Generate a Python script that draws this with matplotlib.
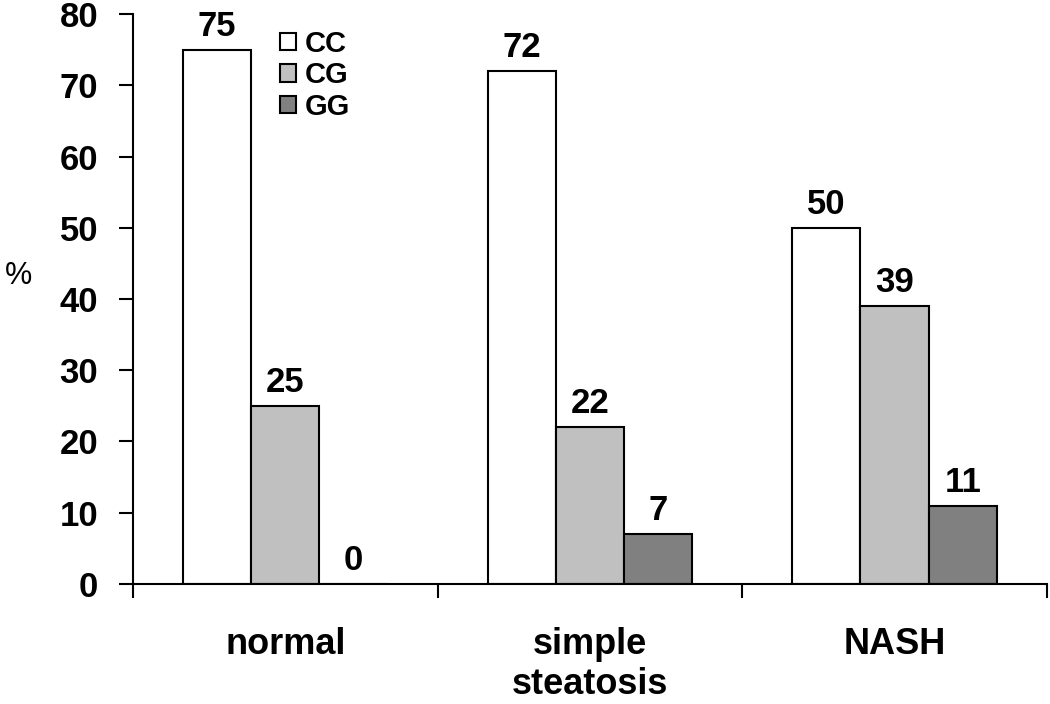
import numpy as np
import matplotlib
matplotlib.use("Agg")
import matplotlib.pyplot as plt
from matplotlib.patches import Patch

plt.rcParams['font.family'] = ['Liberation Sans', 'DejaVu Sans']

categories = ["normal", "simple\nsteatosis", "NASH"]
genotypes = ["CC", "CG", "GG"]
cc = [75, 72, 50]
cg = [25, 22, 39]
gg = [0, 7, 11]
colors = ["#ffffff", "#c0c0c0", "#808080"]

fig = plt.figure(figsize=(10.5, 7.04), dpi=100)
ax = fig.add_axes([0.1267, 0.1705, 0.8703, 0.8095])

x = np.arange(len(categories))
w = 0.224
series = [cc, cg, gg]
for i, vals in enumerate(series):
    pos = x + (i - 1) * w
    ax.bar(pos, vals, width=w, color=colors[i], edgecolor="black", linewidth=1.5)
    for p, v in zip(pos, vals):
        ax.annotate(str(v), (p, v), xytext=(0, 5), textcoords="offset points",
                    ha="center", va="bottom", fontsize=25, fontweight="bold")

ax.set_xlim(-0.5, 2.5)
ax.set_ylim(0, 80)
ax.set_yticks(range(0, 81, 10))
ax.set_yticklabels([str(t) for t in range(0, 81, 10)], fontsize=25, fontweight="bold")
ax.set_xticks(x)
ax.set_xticklabels(categories, fontsize=26, fontweight="bold", linespacing=1.2)
ax.set_xticks([-0.5, 0.5, 1.5, 2.5], minor=True)
ax.tick_params(axis="x", which="major", length=0, pad=31)
ax.tick_params(axis="x", which="minor", length=10, width=1.5, direction="out")
ax.tick_params(axis="y", length=10, width=1.5, direction="out", pad=15)

for s in ["top", "right"]:
    ax.spines[s].set_visible(False)
for s in ["left", "bottom"]:
    ax.spines[s].set_linewidth(1.5)

ax.set_ylabel("%", fontsize=22, rotation=0, va="center")
ax.yaxis.set_label_coords(-0.125, 0.54)

handles = [Patch(facecolor=c, edgecolor="black", linewidth=1.5) for c in colors]
ax.legend(handles, genotypes, loc="upper left", bbox_to_anchor=(0.138, 1.008),
          frameon=False, prop={"size": 21, "weight": "bold"},
          handlelength=0.55, handleheight=0.55, handletextpad=0.3, labelspacing=0.12,
          borderpad=0.2)

fig.savefig("out.png", dpi=100)
